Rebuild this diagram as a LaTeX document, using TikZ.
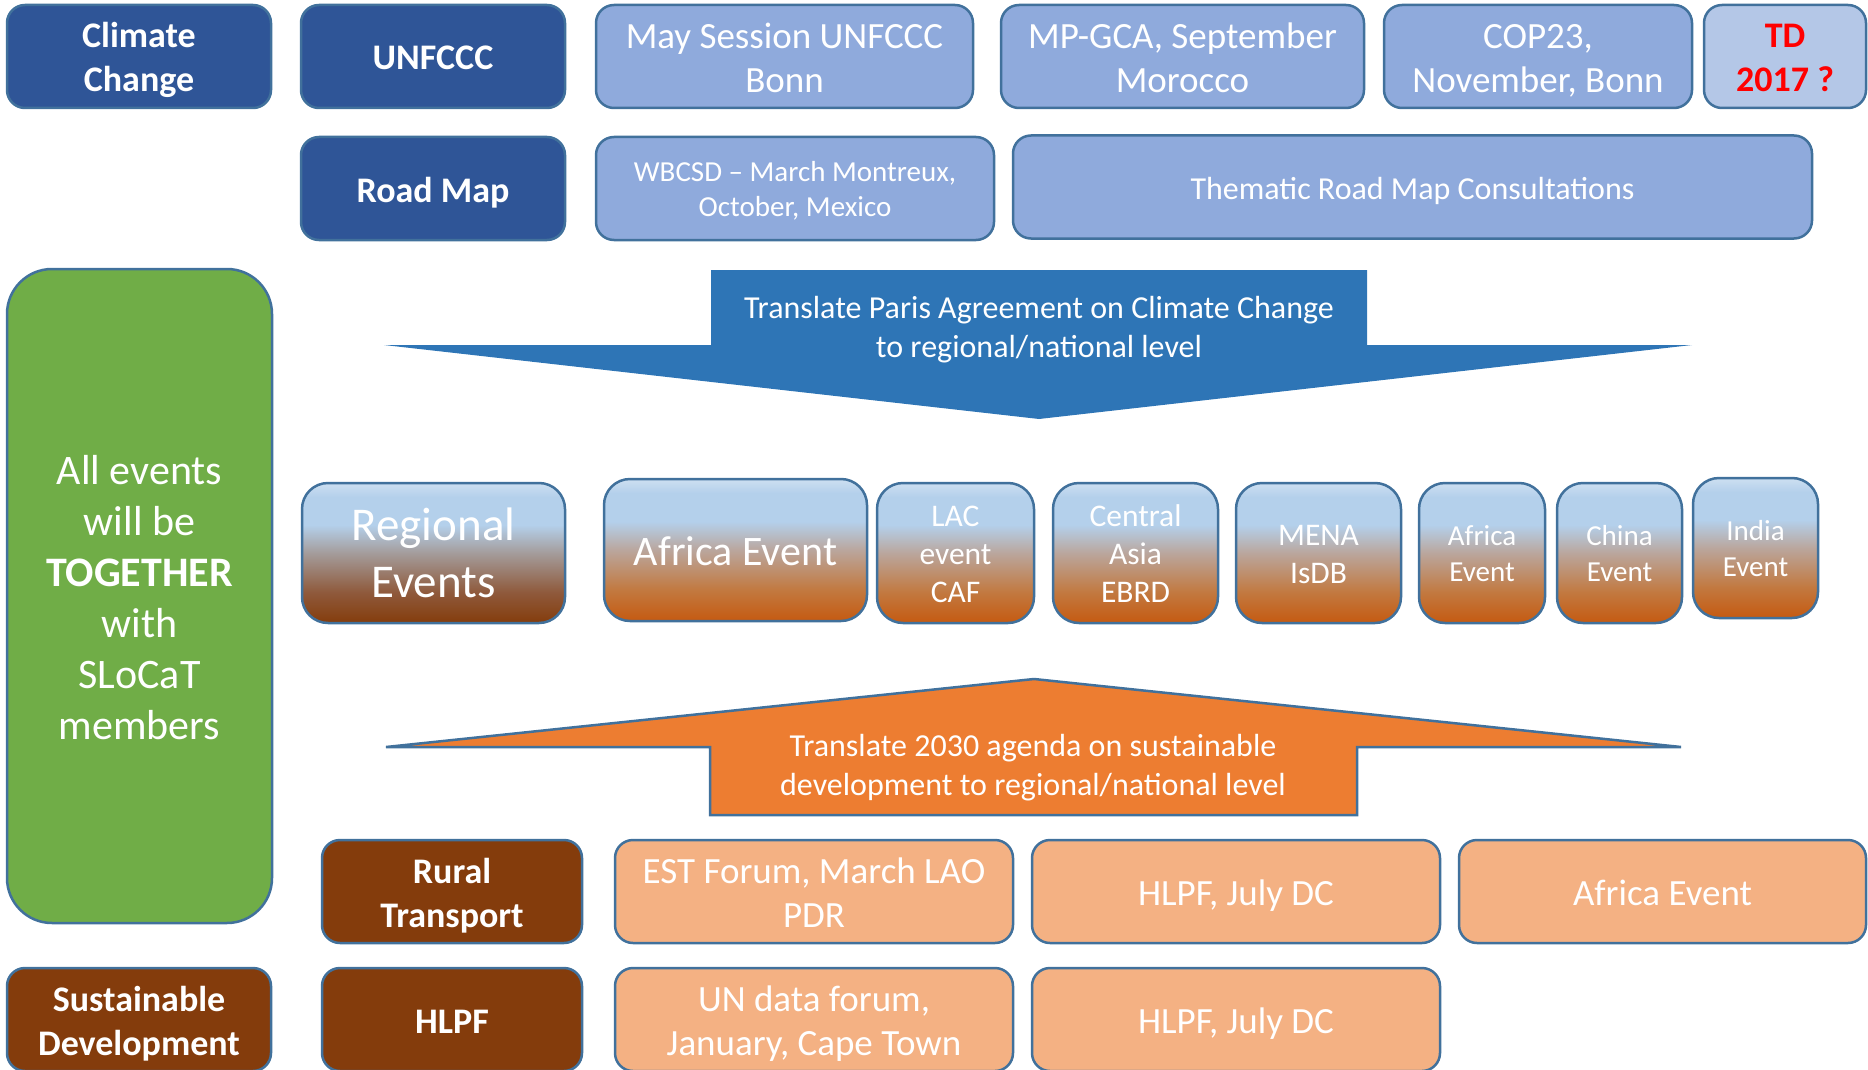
\documentclass[tikz,border=0pt]{standalone}
\usepackage{fontspec}
\setmainfont{Carlito}
\definecolor{dkblue}{HTML}{2F5597}
\definecolor{ltblue}{HTML}{8FAADC}
\definecolor{paleblue}{HTML}{B4C7E7}
\definecolor{edgec}{HTML}{41719C}
\definecolor{brownc}{HTML}{843C0C}
\definecolor{peach}{HTML}{F4B183}
\definecolor{grn}{HTML}{70AD47}
\definecolor{arrblue}{HTML}{2E75B6}
\definecolor{arrorange}{HTML}{ED7D31}
\definecolor{tdred}{HTML}{FF0000}
\definecolor{evbot}{HTML}{C55A11}
\definecolor{evlow}{HTML}{C27940}
\definecolor{evmid}{HTML}{BAA69D}
\definecolor{evblue}{HTML}{B4D0EB}
\definecolor{evtop}{HTML}{CDDFF1}
\definecolor{rgbot}{HTML}{843C0C}
\definecolor{rglow}{HTML}{8F5A3C}
\definecolor{rgmid}{HTML}{A49C9B}
\pgfdeclareverticalshading{evshade}{100bp}{color(0bp)=(evbot); color(25bp)=(evbot); color(36bp)=(evlow); color(50bp)=(evmid); color(60bp)=(evblue); color(70bp)=(evblue); color(75bp)=(evtop); color(100bp)=(evtop)}
\pgfdeclareverticalshading{rgshade}{100bp}{color(0bp)=(rgbot); color(25bp)=(rgbot); color(36bp)=(rglow); color(50bp)=(rgmid); color(60bp)=(evblue); color(70bp)=(evblue); color(75bp)=(evtop); color(100bp)=(evtop)}
\newcommand{\fstr}{\rule{0pt}{1em}}
\newcommand{\lstr}{\rule[-0.25em]{0pt}{0pt}}
\tikzset{
  box/.style={rectangle, rounded corners=18pt, draw=edgec, line width=2.5pt, inner sep=0pt, align=center, text=white},
  titlebox/.style={box, fill=dkblue, minimum height=103pt, font=\fontsize{36}{44}\selectfont\bfseries},
  lightbox/.style={box, fill=ltblue, minimum height=103pt, font=\fontsize{37}{44}\selectfont},
  evbox/.style={box, rounded corners=26pt, shading=evshade, shading angle=0, minimum height=140pt},
  brownbox/.style={box, fill=brownc, minimum height=103pt, font=\fontsize{36}{44}\selectfont\bfseries},
  peachbox/.style={box, fill=peach, minimum height=103pt, font=\fontsize{37}{44}\selectfont},
  arrtext/.style={inner sep=0pt, align=center, text=white, font=\fontsize{32}{39}\selectfont},
}
\begin{document}
\begin{tikzpicture}[x=1pt, y=-1pt]
\useasboundingbox (0,0) rectangle (1868,1070);
% row 1
\node[titlebox, minimum width=264pt] (cc) at (139,56.5) {\fstr Climate\\Change\lstr};
\node[titlebox, minimum width=264pt] (unfccc) at (433,56.5) {\fstr UNFCCC\lstr};
\node[lightbox, minimum width=377pt] (may) at (784.5,56.5) {\fstr May Session UNFCCC\\Bonn\lstr};
\node[lightbox, minimum width=363pt] (mpgca) at (1182.5,56.5) {\fstr MP-GCA, September\\Morocco\lstr};
\node[lightbox, minimum width=308pt] (cop) at (1538,56.5) {\fstr COP23,\\November, Bonn\lstr};
\node[lightbox, fill=paleblue, text=tdred, minimum width=162pt, font=\fontsize{36}{44}\selectfont\bfseries] (td) at (1785,56.5) {\fstr TD\\2017 ?\lstr};
% row 2
\node[titlebox, minimum width=264pt] (roadmap) at (433,188.5) {\fstr Road Map\lstr};
\node[lightbox, minimum width=398pt, font=\fontsize{29}{35}\selectfont] (wbcsd) at (795,188.5) {\fstr WBCSD – March Montreux,\\October, Mexico\lstr};
\node[lightbox, minimum width=799pt, font=\fontsize{32}{39}\selectfont] (thematic) at (1412.5,187) {\fstr Thematic Road Map Consultations\lstr};
% green
\node[box, fill=grn, rounded corners=45pt, minimum width=265pt, minimum height=654pt, font=\fontsize{42}{51}\selectfont] (all) at (139.5,596) {\rule{0pt}{0.78em}All events\\will be\\\textbf{TOGETHER}\\with\\SLoCaT\\members};
% down arrow
\path[fill=arrblue] (384,345) -- (711,345) -- (711,270) -- (1367,270) -- (1367,345) -- (1692,345) -- (1039,419) -- cycle;
\node[arrtext] (paris) at (1039,330) {Translate Paris Agreement on Climate Change\\to regional/national level};
% events
\node[evbox, shading=rgshade, minimum width=263pt, font=\fontsize{47}{57}\selectfont] (regional) at (433.5,553) {\fstr Regional\\Events\rule[-0.33em]{0pt}{0pt}};
\node[evbox, minimum width=263pt, minimum height=142pt, font=\fontsize{42}{51}\selectfont] (africabig) at (735.5,550) {\fstr Africa Event\lstr};
\node[evbox, minimum width=157pt, font=\fontsize{31.5}{38}\selectfont] (lac) at (955.5,553) {\fstr LAC\\event\\CAF\lstr};
\node[evbox, minimum width=165pt, font=\fontsize{31.5}{38}\selectfont] (casia) at (1135.5,553) {\fstr Central\\Asia\\EBRD\lstr};
\node[evbox, minimum width=165pt, font=\fontsize{31.5}{38}\selectfont] (mena) at (1318.5,553) {\fstr MENA\\IsDB\lstr};
\node[evbox, minimum width=126pt, font=\fontsize{29}{36}\selectfont] (africasm) at (1482,553) {\fstr Africa\\Event\lstr};
\node[evbox, minimum width=125pt, font=\fontsize{29}{36}\selectfont] (china) at (1619.5,553) {\fstr China\\Event\lstr};
\node[evbox, minimum width=125pt, font=\fontsize{29}{36}\selectfont] (india) at (1755.5,548) {\fstr India\\Event\lstr};
% up arrow
\path[fill=arrorange, draw=edgec, line width=2.5pt, line join=miter] (386,747) -- (1034,679) -- (1681,747) -- (1357,747) -- (1357,815) -- (710,815) -- (710,747) -- cycle;
\node[arrtext] (agenda) at (1033,768) {Translate 2030 agenda on sustainable\\development to regional/national level};
% bottom row A
\node[brownbox, minimum width=260pt] (rural) at (452,891.5) {\fstr Rural\\Transport\lstr};
\node[peachbox, minimum width=398pt] (est) at (814,891.5) {\fstr EST Forum, March LAO\\PDR\lstr};
\node[peachbox, minimum width=408pt] (hlpfa) at (1236,891.5) {\fstr HLPF, July DC\lstr};
\node[peachbox, minimum width=407pt] (africaev) at (1662.5,891.5) {\fstr Africa Event\lstr};
% bottom row B
\node[brownbox, minimum width=264pt, minimum height=103pt] (sd) at (139,1019.5) {\fstr Sustainable\\Development\lstr};
\node[brownbox, minimum width=260pt, minimum height=103pt] (hlpf) at (452,1019.5) {\fstr HLPF\lstr};
\node[peachbox, minimum width=398pt, minimum height=103pt] (undata) at (814,1019.5) {\fstr UN data forum,\\January, Cape Town\lstr};
\node[peachbox, minimum width=408pt, minimum height=103pt] (hlpfb) at (1236,1019.5) {\fstr HLPF, July DC\lstr};
\end{tikzpicture}
\end{document}
